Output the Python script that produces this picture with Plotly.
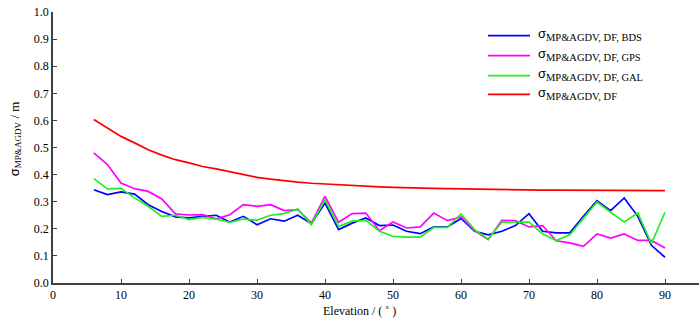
import plotly.graph_objects as go

elevation = list(range(6, 92, 2))

sigma_bds = [0.344, 0.326, 0.336, 0.328, 0.289, 0.264, 0.244, 0.240, 0.246, 0.250, 0.225, 0.246, 0.215,
             0.237, 0.228, 0.250, 0.219, 0.295, 0.197, 0.221, 0.240, 0.212, 0.214, 0.191, 0.182, 0.207,
             0.207, 0.238, 0.191, 0.178, 0.191, 0.212, 0.256, 0.191, 0.185, 0.185, 0.246, 0.304, 0.267,
             0.314, 0.246, 0.139, 0.095]
sigma_gps = [0.480, 0.437, 0.369, 0.348, 0.338, 0.310, 0.255, 0.251, 0.252, 0.237, 0.252, 0.289, 0.283,
             0.289, 0.267, 0.271, 0.221, 0.320, 0.224, 0.256, 0.258, 0.193, 0.225, 0.203, 0.207, 0.258,
             0.230, 0.244, 0.193, 0.160, 0.231, 0.230, 0.207, 0.212, 0.156, 0.148, 0.135, 0.181, 0.166,
             0.181, 0.157, 0.157, 0.129]
sigma_gal = [0.385, 0.347, 0.349, 0.314, 0.283, 0.246, 0.250, 0.234, 0.242, 0.236, 0.224, 0.236, 0.232,
             0.250, 0.256, 0.273, 0.215, 0.308, 0.209, 0.228, 0.231, 0.191, 0.172, 0.169, 0.169, 0.205,
             0.205, 0.255, 0.197, 0.162, 0.224, 0.224, 0.225, 0.182, 0.157, 0.178, 0.240, 0.299, 0.261,
             0.225, 0.258, 0.145, 0.261]
sigma_df = [0.603, 0.572, 0.541, 0.517, 0.492, 0.472, 0.455, 0.443, 0.430, 0.421, 0.410, 0.400, 0.390,
            0.383, 0.377, 0.372, 0.368, 0.365, 0.362, 0.359, 0.357, 0.355, 0.353, 0.351, 0.350, 0.349,
            0.348, 0.347, 0.346, 0.345, 0.345, 0.344, 0.344, 0.343, 0.343, 0.343, 0.342, 0.342, 0.342,
            0.342, 0.342, 0.341, 0.341]

series_names = ["MP&amp;AGDV, DF, BDS", "MP&amp;AGDV, DF, GPS", "MP&amp;AGDV, DF, GAL", "MP&amp;AGDV, DF"]
series_colors = ["#0000ff", "#ff00ff", "#22ee22", "#ff0000"]
series_values = [sigma_bds, sigma_gps, sigma_gal, sigma_df]

x_ticks = list(range(0, 100, 10))
y_ticks = [round(0.1 * i, 1) for i in range(11)]

SERIF = "Liberation Serif, DejaVu Serif, serif"
SIG = '<span style="font-family:Liberation Sans, Arial, sans-serif;font-size:13px">σ</span>'

fig = go.Figure()
for name, col, vals in zip(series_names, series_colors, series_values):
    fig.add_trace(go.Scatter(x=elevation, y=vals, mode="lines",
                             line=dict(color=col, width=1.7), name=name, showlegend=False))

W, H = 700, 326
L, R, T, B = 53, 1, 12, 43
pw, ph = W - L - R, H - T - B

def px(xp):
    return (xp - L) / pw

def py(yp):
    return (H - B - yp) / ph

shapes = []
annotations = []
leg_y = [35.7, 55.7, 75.7, 94.3]
for name, col, yy in zip(series_names, series_colors, leg_y):
    shapes.append(dict(type="line", xref="paper", yref="paper", x0=px(488), x1=px(530),
                       y0=py(yy), y1=py(yy), line=dict(color=col, width=1.7)))
    annotations.append(dict(xref="paper", yref="paper", x=px(536), y=py(yy - 1), xanchor="left",
                            yanchor="middle", showarrow=False,
                            text=SIG + "<sub>" + name + "</sub>",
                            font=dict(family=SERIF, size=15, color="#000")))

annotations.append(dict(xref="x", yref="paper", x=45, y=py(311), xanchor="center", yanchor="middle",
                        showarrow=False, text="Elevation / ( ˚ )",
                        font=dict(family=SERIF, size=12, color="#000")))
annotations.append(dict(xref="paper", yref="paper", x=px(15), y=0.53, xanchor="center", yanchor="middle",
                        showarrow=False, textangle=-90,
                        text=SIG + "<sub>MP&amp;AGDV</sub> / m",
                        font=dict(family=SERIF, size=13, color="#000")))

fig.update_layout(
    width=W, height=H,
    margin=dict(l=L, r=R, t=T, b=B, autoexpand=False),
    paper_bgcolor="white", plot_bgcolor="white",
    font=dict(family=SERIF, size=12, color="#000"),
    shapes=shapes, annotations=annotations,
    xaxis=dict(range=[0, 95], tickvals=x_ticks, ticktext=[str(v) for v in x_ticks], automargin=False,
               showgrid=False, zeroline=False, showline=True, linecolor="#404040", linewidth=1.5,
               ticks="inside", ticklen=4, tickcolor="#404040", tickwidth=1,
               tickfont=dict(family=SERIF, size=12, color="#000")),
    yaxis=dict(range=[0, 1.0], tickvals=y_ticks, ticktext=[f"{v:.1f}" for v in y_ticks], automargin=False,
               showgrid=False, zeroline=False, showline=True, linecolor="#404040", linewidth=1.5,
               ticks="inside", ticklen=4, tickcolor="#404040", tickwidth=1,
               tickfont=dict(family=SERIF, size=12, color="#000")),
)

fig.write_html("out.html", config={"displayModeBar": False},
               post_script="document.body.style.margin='0';")
